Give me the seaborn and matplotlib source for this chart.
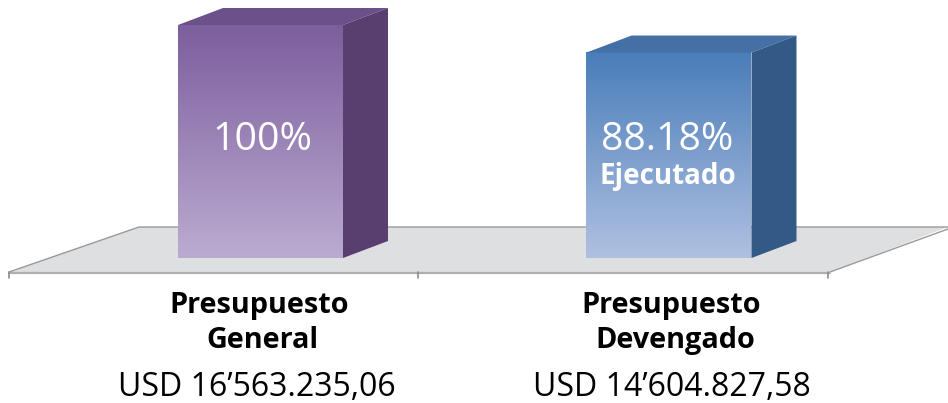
import numpy as np
import matplotlib
matplotlib.use("Agg")
import matplotlib.pyplot as plt
from matplotlib.colors import LinearSegmentedColormap
from matplotlib.patches import Polygon
import seaborn as sns

categorias = ["Presupuesto General", "Presupuesto Devengado"]
porcentajes = [100, 88.18]
montos = ["USD 16’563.235,06", "USD 14’604.827,58"]
etiqueta_ejecutado = "Ejecutado"

col_arriba = ["#7C5E9D", "#4A7DB9"]
col_abajo = ["#BBABD1", "#AFC0E1"]
col_tapa = ["#6A5189", "#4470A5"]
col_lado = ["#593F70", "#335A87"]

sns.set_theme(style="white")
plt.rcParams["font.family"] = ["Open Sans", "DejaVu Sans"]


# pixel position of the reference -> data units of the axes
def px_x(x):
    return (x - 260.5) / 408.5


def px_y(y):
    return (258 - y) / 2.33


fig = plt.figure(figsize=(9.48, 4.03), dpi=100)
ax = fig.add_axes([0, 0, 1, 1])

sns.barplot(x=categorias, y=porcentajes, hue=categorias, palette=col_arriba,
            width=165 / 408.5, legend=False, ax=ax)

# floor
piso = [(px_x(9), px_y(272)), (px_x(139), px_y(227)), (px_x(948), px_y(227)), (px_x(830), px_y(272))]
ax.add_patch(Polygon(piso, closed=True, facecolor="#DEDFE1", edgecolor="none", zorder=0))
ax.plot([px_x(9), px_x(139), px_x(948)], [px_y(272), px_y(227), px_y(227)], color="#9A9A9A", lw=1, zorder=0.5)
ax.plot([px_x(830), px_x(948)], [px_y(272), px_y(229)], color="#9A9A9A", lw=1, zorder=0.5)
ax.plot([px_x(9), px_x(830)], [px_y(272.5), px_y(272.5)], color="#AFAFAF", lw=1.6, zorder=0.5)
for t in [9, 418.5, 828]:
    ax.plot([px_x(t), px_x(t)], [px_y(272), px_y(277.5)], color="#8C8C8C", lw=1.2, zorder=0.5)

# 3d look on top of each bar
dx = 45 / 408.5
dy = 17 / 2.33
for i, bar in enumerate(ax.patches[:2]):
    x0 = bar.get_x()
    x1 = x0 + bar.get_width()
    h = bar.get_height()
    bar.set_visible(False)
    cmap = LinearSegmentedColormap.from_list("g", [col_arriba[i], col_abajo[i]])
    ax.imshow(np.linspace(0, 1, 256).reshape(-1, 1), cmap=cmap, extent=(x0, x1, 0, h),
              origin="upper", aspect="auto", zorder=2)
    ax.add_patch(Polygon([(x0, h), (x0 + dx, h + dy), (x1 + dx, h + dy), (x1, h)],
                         facecolor=col_tapa[i], edgecolor="none", zorder=2))
    ax.add_patch(Polygon([(x1, 0), (x1, h), (x1 + dx, h + dy), (x1 + dx, dy)],
                         facecolor=col_lado[i], edgecolor="none", zorder=2))

ax.set_xlim(px_x(0), px_x(948))
ax.set_ylim(px_y(403), px_y(0))
ax.axis("off")

# texts
for v, x, y in zip(porcentajes, [262, 667.5], [150, 150]):
    ax.text(px_x(x), px_y(y), f"{v:g}%", color="white", fontsize=28.3, ha="center", va="baseline", zorder=3)
ax.text(px_x(667.5), px_y(184), etiqueta_ejecutado, color="white", fontsize=20, fontweight="bold",
        ha="center", va="baseline", zorder=3)

pos_linea1 = [259, 671.5]
pos_linea2 = [262.5, 675.5]
pos_monto = [256.5, 672]
for i, cat in enumerate(categorias):
    linea1, linea2 = cat.split(" ")
    ax.text(px_x(pos_linea1[i]), px_y(313), linea1, color="black", fontsize=20.8, fontweight="bold",
            ha="center", va="baseline")
    ax.text(px_x(pos_linea2[i]), px_y(348), linea2, color="black", fontsize=20.8, fontweight="bold",
            ha="center", va="baseline")
    ax.text(px_x(pos_monto[i]), px_y(396), montos[i], color="black", fontsize=23,
            ha="center", va="baseline")

fig.savefig("out.png", dpi=100)
